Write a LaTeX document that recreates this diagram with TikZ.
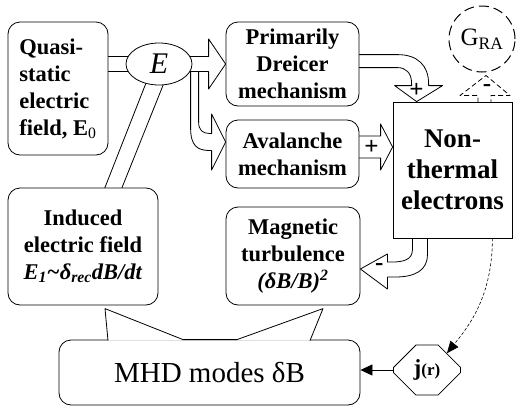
\documentclass[tikz,border=0pt]{standalone}
\usepackage{fontspec}
\setmainfont{Liberation Serif}
\usetikzlibrary{positioning,calc,shapes.geometric,shapes.misc,arrows.meta}
\pgfdeclarelayer{background}
\pgfsetlayers{background,main}

\tikzset{
  box/.style={draw, fill=white, rounded corners=12pt, line width=0.8pt, align=center,
    inner sep=0pt, font=\fontsize{22.5}{27}\selectfont\bfseries},
  hollow/.style={draw, fill=white, line width=0.8pt, line join=round},
  sign/.style={inner sep=0pt, font=\fontsize{25}{25}\selectfont\bfseries},
}

\begin{document}
\begin{tikzpicture}[x=1pt, y=-1pt]
  \useasboundingbox (0,0) rectangle (517,410);

  % Boxes
  \node[box, minimum width=100pt, minimum height=133pt, align=left] (qs) at (58,88.5)
    {Quasi-\\static\\electric\\field, E\textsubscript{\mdseries 0}};
  \node[draw, fill=white, ellipse, line width=0.8pt, inner sep=0pt,
    minimum width=66pt, minimum height=42pt, font=\fontsize{30}{30}\selectfont\itshape] (E) at (159,64) {E};
  \node[box, minimum width=133pt, minimum height=84pt] (pd) at (292.5,64) {Primarily\\Dreicer\\mechanism};
  \node[box, minimum width=133pt, minimum height=68pt] (av) at (292.5,154) {Avalanche\\mechanism};
  \node[draw, fill=white, line width=0.8pt, inner sep=0pt, align=center,
    minimum width=119pt, minimum height=136pt, font=\fontsize{27}{31}\selectfont\bfseries] (ne) at (452.5,170)
    {Non-\\thermal\\electrons};
  \node[box, minimum width=134pt, minimum height=98pt] (mt) at (293,256)
    {Magnetic\\turbulence\\\textit{(δB/B)\textsuperscript{2}}};
  \node[box, minimum width=150pt, minimum height=117pt] (ie) at (83,246.5)
    {Induced\\electric field\\\textit{E\textsubscript{1}\textasciitilde δ\textsubscript{rec}dB/dt}};
  \node[draw, fill=white, circle, line width=1pt, dash pattern=on 10pt off 5pt, minimum size=66pt,
    inner sep=0pt, font=\fontsize{25}{25}\selectfont] (gra) at (482,39) {G\textsubscript{RA}};
  \node[draw, fill=white, rounded corners=12pt, line width=0.8pt, minimum width=301pt, minimum height=65pt,
    font=\fontsize{29}{29}\selectfont] (mhd) at (209.5,372.5) {MHD modes δB};
  \node[draw, fill=white, chamfered rectangle, chamfered rectangle xsep=12pt, chamfered rectangle ysep=12pt,
    line width=0.8pt, inner sep=0pt, minimum width=67pt, minimum height=50pt, font=\bfseries] (jr) at (427,370)
    {{\fontsize{23}{23}\selectfont j}{\fontsize{17}{17}\selectfont (r)}};

  % Block arrows behind the boxes
  \coordinate (avtip) at ($(av.west)+(0,-12)$);
  \coordinate (netip) at ($(ne.west)+(0,-23)$);
  \coordinate (pdtip) at ($(ne.north west)+(24,0)$);
  \coordinate (gratip) at ($(gra.south)+(4,3)$);
  \coordinate (mttip) at ($(mt.east)+(0,13)$);
  \begin{pgfonlayer}{background}
    \begin{scope}[shift={(avtip)}]
      \draw[hollow] (-35,-78) -- (-35,-14) .. controls (-35,4) and (-28,8.5) .. (-16,8.5) -- (-14,8.5)
        -- (-14,28) -- (0,0) -- (-14,-28) -- (-14,-8.5) -- (-16,-8.5)
        .. controls (-23,-8.5) and (-27,-12) .. (-27,-20) -- (-27,-78) -- cycle;
    \end{scope}
    \begin{scope}[shift={(pd.west)}]
      \draw[hollow] (-67,-7.5) -- (-17,-7.5) -- (-17,-25) -- (0,0) -- (-17,25) -- (-17,7.5) -- (-67,7.5) -- cycle;
    \end{scope}
    \draw[hollow] ($(qs.center |- E.center)+(0,-7.5)$) rectangle ($(E.center)+(0,7.5)$);
    \draw[hollow] ($(E.south)+(-10,-10)$) -- ($(E.south)+(8,-10)$) -- ($(ie.north)+(35,10)$)
      -- ($(ie.north)+(18,10)$) -- cycle;
    \begin{scope}[shift={(pdtip)}]
      \draw[hollow] (-67,-47) -- (-19,-47) .. controls (1,-47) and (12,-36) .. (12,-18) -- (12,-16)
        -- (26,-16) -- (0,0) -- (-22,-16) -- (-5,-16) -- (-5,-18)
        .. controls (-5,-29) and (-11,-34) .. (-19,-34) -- (-67,-34) -- cycle;
    \end{scope}
    \begin{scope}[shift={(netip)}]
      \draw[hollow] (-43,-11) -- (-12,-11) -- (-12,-23) -- (0,0) -- (-12,23) -- (-12,11) -- (-43,11) -- cycle;
    \end{scope}
    \begin{scope}[shift={(gratip)}]
      \draw[hollow, dash pattern=on 5pt off 3pt] (-8,35) -- (-8,20) -- (-26,20) -- (0,0) -- (24,20)
        -- (5,20) -- (5,35);
    \end{scope}
    \begin{scope}[shift={(mttip)}]
      \draw[hollow] (52,-39) -- (52,-19) .. controls (52,-9) and (42,-7) .. (32,-7) -- (27,-7)
        -- (27,-15) -- (0,0) -- (27,20) -- (27,8) -- (35,8)
        .. controls (55,8) and (67,1) .. (67,-14) -- (67,-39) -- cycle;
    \end{scope}
  \end{pgfonlayer}

  % Signs
  \node[sign] (plusdr) at ($(pdtip)+(0,-11)$) {+};
  \node[sign] (plusav) at ($(netip)+(-21,0)$) {+};
  \node[sign] (minusgra) at ($(gratip)+(1,13)$) {-};
  \node[sign] (minusmt) at ($(mttip)+(19,-2)$) {-};

  % MHD callout pointers
  \begin{scope}[shift={(mhd.north)}]
    \fill[white] (-101.5,1) -- (-104.5,-31) -- (-26.5,0) -- (27.5,0) -- (113.5,-31) -- (100.5,1) -- cycle;
    \draw[line width=0.8pt, line join=round] (-101.5,1) -- (-104.5,-31) -- (-26.5,0) -- (27.5,0)
      -- (113.5,-31) -- (100.5,1);
  \end{scope}

  % Current and feedback
  \draw[line width=0.8pt, -{Triangle[length=12pt,width=11pt]}] (jr.west) -- (jr.west -| mhd.east);
  \draw[line width=0.6pt, dash pattern=on 3pt off 2pt, -{Triangle[length=12pt,width=10pt]}]
    ($(ne.south east)+(-20,0)$) .. controls +(0,60) and +(20,-25) .. (jr.40);
\end{tikzpicture}
\end{document}
